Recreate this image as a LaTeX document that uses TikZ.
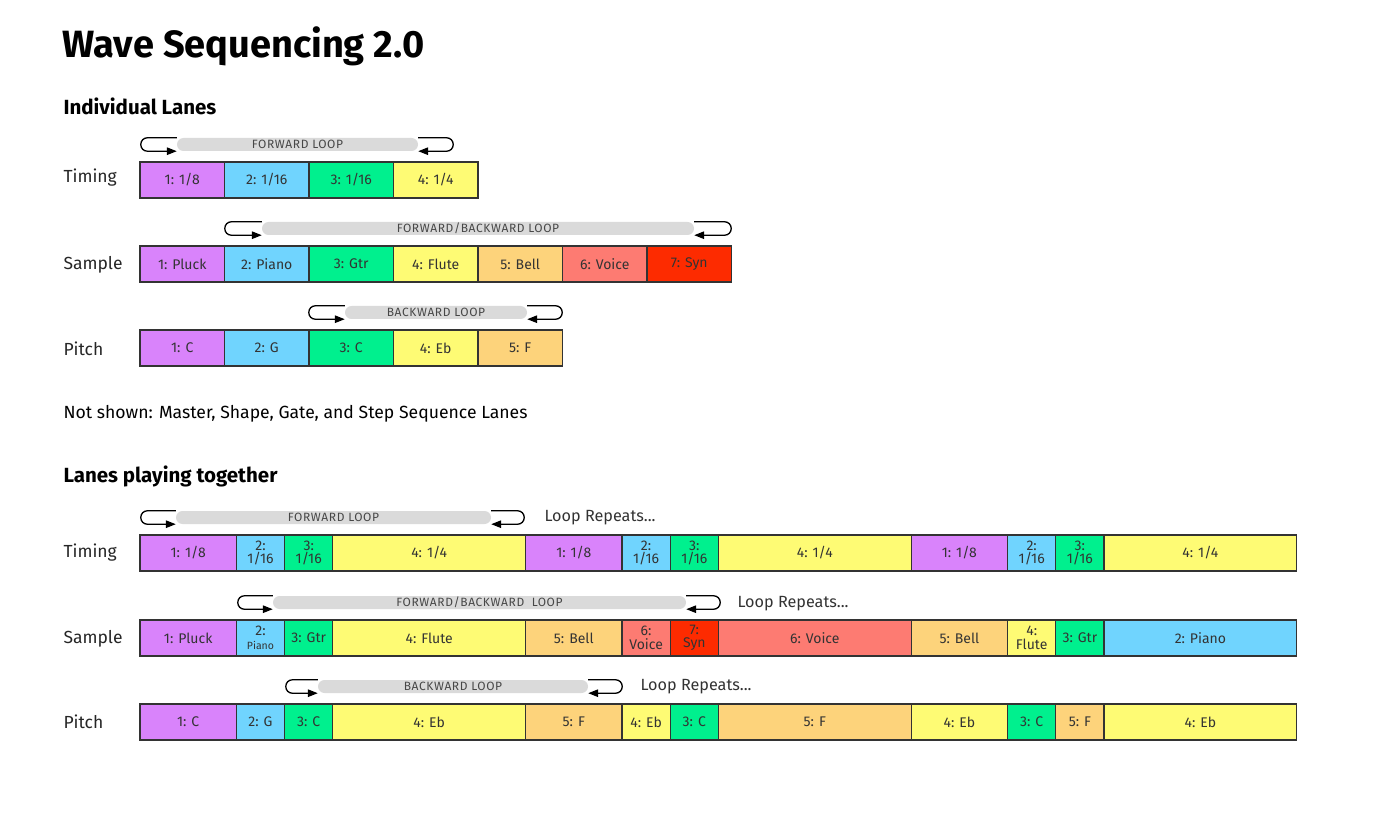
\documentclass[tikz,border=0pt]{standalone}
\usepackage{fontspec}
\setmainfont{Fira Sans}
\usepackage{tikz}
\usetikzlibrary{positioning}
\usetikzlibrary{arrows.meta}
\usepackage{xcolor}
\definecolor{cpurple}{HTML}{D983FB}
\definecolor{cblue}{HTML}{70D4FE}
\definecolor{cgreen}{HTML}{00F08E}
\definecolor{cyellow}{HTML}{FEFB74}
\definecolor{corange}{HTML}{FDD37B}
\definecolor{csalmon}{HTML}{FD7B72}
\definecolor{cred}{HTML}{FD2B00}
\definecolor{textgray}{HTML}{333333}
\definecolor{bargray}{HTML}{DADADA}

\begin{document}
\begin{tikzpicture}[
    x=1pt, y=-1pt,
    cell/.style={rectangle, draw=textgray, line width=1.2pt, minimum height=36, inner sep=1pt,
        align=center, text=textgray, font=\fontsize{14}{13.5}\selectfont},
    lanelabel/.style={anchor=west, text=black!85, font=\fontsize{17.5}{19}\selectfont},
    heading/.style={anchor=west, font=\fontsize{20.5}{22}\selectfont\bfseries},
    loopbar/.style={rectangle, fill=bargray, rounded corners=6.5pt, minimum height=13, inner sep=0pt,
        text=black!72, font=\fontsize{12}{10}\selectfont\addfontfeature{LetterSpace=5}},
    bracket/.style={-{Triangle[length=10pt,width=7.5pt]}, line width=1.3pt, rounded corners=6.5pt},
    repeats/.style={anchor=west, text=textgray, font=\fontsize{16.2}{17}\selectfont}
]
    \useasboundingbox (0,0) rectangle (1390,834);

    % Titles
    \node[anchor=west, font=\fontsize{38}{40}\selectfont\bfseries] (title) at (59,46) {Wave Sequencing 2.0};
    \node[heading] (indiv) at (60,106) {Individual Lanes};
    \node[anchor=west, font=\fontsize{17.6}{19}\selectfont] (notshown) at (60,414) {Not shown: Master, Shape, Gate, and Step Sequence Lanes};
    \node[heading] (together) at (60,476) {Lanes playing together};

    % Individual lanes
    \node[lanelabel] (itlab) at (60,178) {Timing};
    \node[lanelabel] (islab) at (60,265) {Sample};
    \node[lanelabel] (iplab) at (60,349) {Pitch};

    \foreach \c/\t [count=\i] in {cpurple/{1: 1/8}, cblue/{2: 1/16}, cgreen/{3: 1/16}, cyellow/{4: 1/4}}
        \node[cell, fill=\c, minimum width=84.5] (it\i) at ({140+(\i-0.5)*84.5},180) {\t};
    \foreach \c/\t [count=\i] in {cpurple/{1: Pluck}, cblue/{2: Piano}, cgreen/{3: Gtr}, cyellow/{4: Flute},
        corange/{5: Bell}, csalmon/{6: Voice}, cred/{7: Syn}}
        \node[cell, fill=\c, minimum width=84.5] (is\i) at ({140+(\i-0.5)*84.5},264) {\t};
    \foreach \c/\t [count=\i] in {cpurple/{1: C}, cblue/{2: G}, cgreen/{3: C}, cyellow/{4: Eb}, corange/{5: F}}
        \node[cell, fill=\c, minimum width=84.5] (ip\i) at ({140+(\i-0.5)*84.5},348) {\t};

    % Loops of the individual lanes
    \node[loopbar, minimum width=241] (itloop) at (297.5,144.5) {FORWARD LOOP};
    \draw[bracket] (itloop.north west) -- ++(-36,0) |- (itloop.south west);
    \draw[bracket] (itloop.north east) -- ++(35,0) |- (itloop.south east);

    \node[loopbar, minimum width=432] (isloop) at (478,228.5) {FORWARD/BACKWARD LOOP};
    \draw[bracket] (isloop.north west) -- ++(-37,0) |- (isloop.south west);
    \draw[bracket] (isloop.north east) -- ++(37,0) |- (isloop.south east);

    \node[loopbar, minimum width=182] (iploop) at (436,312.5) {BACKWARD LOOP};
    \draw[bracket] (iploop.north west) -- ++(-36,0) |- (iploop.south west);
    \draw[bracket] (iploop.north east) -- ++(35,0) |- (iploop.south east);

    % Lanes playing together
    \node[lanelabel] (ttlab) at (60,553) {Timing};
    \node[lanelabel] (tslab) at (60,639) {Sample};
    \node[lanelabel] (tplab) at (60,722) {Pitch};

    \foreach \s/\n/\c/\t [count=\i] in {0/2/cpurple/{1: 1/8}, 2/1/cblue/{2:\\1/16}, 3/1/cgreen/{3:\\1/16},
        4/4/cyellow/{4: 1/4}, 8/2/cpurple/{1: 1/8}, 10/1/cblue/{2:\\1/16}, 11/1/cgreen/{3:\\1/16},
        12/4/cyellow/{4: 1/4}, 16/2/cpurple/{1: 1/8}, 18/1/cblue/{2:\\1/16}, 19/1/cgreen/{3:\\1/16},
        20/4/cyellow/{4: 1/4}}
        \node[cell, fill=\c, minimum width=\n*48.2] (tt\i) at ({140+(\s+\n/2)*48.2},553) {\t};
    \foreach \s/\n/\c/\t [count=\i] in {0/2/cpurple/{1: Pluck}, 2/1/cblue/{2:\\{\fontsize{10.5}{11}\selectfont Piano}},
        3/1/cgreen/{3: Gtr}, 4/4/cyellow/{4: Flute}, 8/2/corange/{5: Bell}, 10/1/csalmon/{6:\\Voice},
        11/1/cred/{7:\\Syn}, 12/4/csalmon/{6: Voice}, 16/2/corange/{5: Bell}, 18/1/cyellow/{4:\\Flute},
        19/1/cgreen/{3: Gtr}, 20/4/cblue/{2: Piano}}
        \node[cell, fill=\c, minimum width=\n*48.2] (ts\i) at ({140+(\s+\n/2)*48.2},638) {\t};
    \foreach \s/\n/\c/\t [count=\i] in {0/2/cpurple/{1: C}, 2/1/cblue/{2: G}, 3/1/cgreen/{3: C},
        4/4/cyellow/{4: Eb}, 8/2/corange/{5: F}, 10/1/cyellow/{4: Eb}, 11/1/cgreen/{3: C},
        12/4/corange/{5: F}, 16/2/cyellow/{4: Eb}, 18/1/cgreen/{3: C}, 19/1/corange/{5: F},
        20/4/cyellow/{4: Eb}}
        \node[cell, fill=\c, minimum width=\n*48.2] (tp\i) at ({140+(\s+\n/2)*48.2},722) {\t};

    % Loops of the lanes playing together
    \node[loopbar, minimum width=315] (ttloop) at (333.5,517.5) {FORWARD LOOP};
    \draw[bracket] (ttloop.north west) -- ++(-35,0) |- (ttloop.south west);
    \draw[bracket] (ttloop.north east) -- ++(33,0) |- (ttloop.south east);
    \node[repeats] (ttrep) at (541,518) {Loop Repeats...};

    \node[loopbar, minimum width=413] (tsloop) at (479.5,602.5) {FORWARD/BACKWARD\ \ LOOP};
    \draw[bracket] (tsloop.north west) -- ++(-35,0) |- (tsloop.south west);
    \draw[bracket] (tsloop.north east) -- ++(34,0) |- (tsloop.south east);
    \node[repeats] (tsrep) at (734,604) {Loop Repeats...};

    \node[loopbar, minimum width=270] (tploop) at (453,686.5) {BACKWARD LOOP};
    \draw[bracket] (tploop.north west) -- ++(-32,0) |- (tploop.south west);
    \draw[bracket] (tploop.north east) -- ++(34,0) |- (tploop.south east);
    \node[repeats] (tprep) at (637,687) {Loop Repeats...};
\end{tikzpicture}
\end{document}
